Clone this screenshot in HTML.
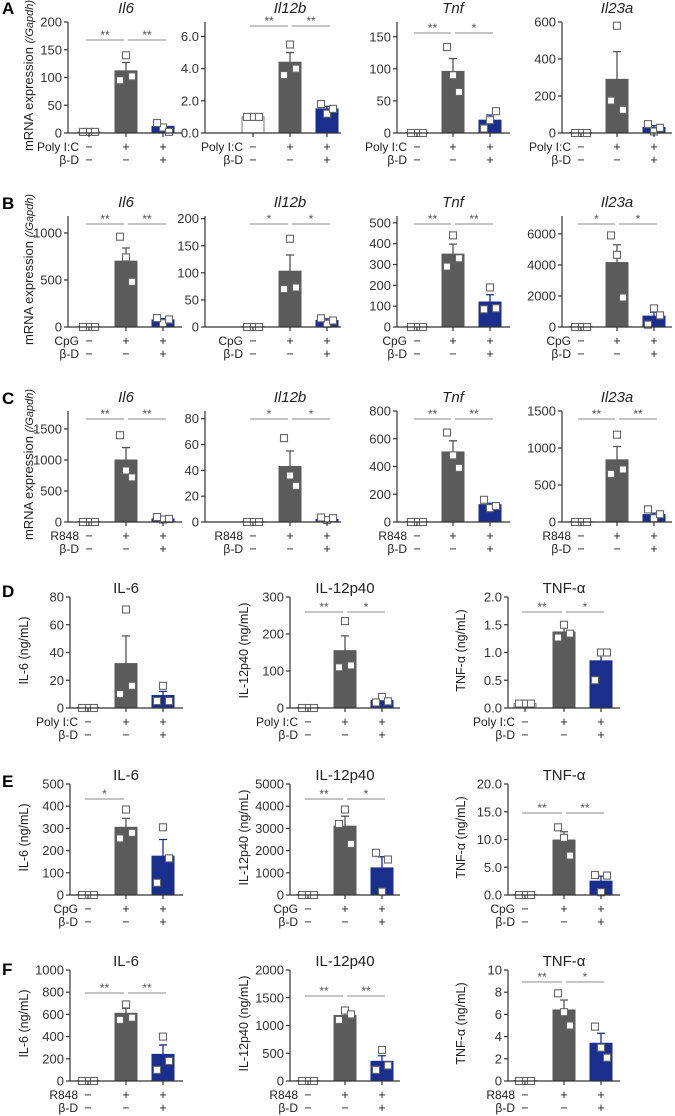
<!DOCTYPE html>
<html><head><meta charset="utf-8">
<style>
html,body{margin:0;padding:0;background:#fff;}
svg{display:block;font-family:"Liberation Sans",Arial,sans-serif;}
</style></head>
<body>
<svg id="fig" width="675" height="1116" viewBox="0 0 675 1116" xmlns="http://www.w3.org/2000/svg">
<text x="2" y="14" font-size="17" font-weight="bold">A</text>
<text x="2" y="209" font-size="17" font-weight="bold">B</text>
<text x="2" y="404" font-size="17" font-weight="bold">C</text>
<text x="2" y="597" font-size="17" font-weight="bold">D</text>
<text x="2" y="787" font-size="17" font-weight="bold">E</text>
<text x="2" y="975" font-size="17" font-weight="bold">F</text>
</svg>
<script>
// ---- data ----
const A1_means=[2,112,12], A1_errs=[0,15,4], A1_pts=[[2,2,2],[140,95,102],[10,18,2]], A1_ticks=[0,50,100,150,200], A1_tickLabels=["0","50","100","150","200"];
const A2_means=[1,4.4,1.5], A2_errs=[0,0.6,0.15], A2_pts=[[1,1,1],[5.5,3.6,4.0],[1.2,1.8,1.5]], A2_ticks=[0,2,4,6], A2_tickLabels=["0.0","2.0","4.0","6.0"];
const A3_means=[0,96,20], A3_errs=[0,20,8], A3_pts=[[0,0,0],[90,134,64],[20,7,34]], A3_ticks=[0,50,100,150], A3_tickLabels=["0","50","100","150"];
const A4_means=[0,290,30], A4_errs=[0,150,10], A4_pts=[[0,0,0],[580,175,125],[8,48,28]], A4_ticks=[0,200,400,600], A4_tickLabels=["0","200","400","600"];

const B1_means=[0,700,75], B1_errs=[0,140,15], B1_pts=[[0,0,0],[740,960,480],[40,95,80]], B1_ticks=[0,500,1000], B1_tickLabels=["0","500","1000"];
const B2_means=[0,103,12], B2_errs=[0,30,3], B2_pts=[[0,0,0],[163,70,73],[6,16,12]], B2_ticks=[0,50,100,150,200], B2_tickLabels=["0","50","100","150","200"];
const B3_means=[0,350,120], B3_errs=[0,48,35], B3_pts=[[0,0,0],[440,290,330],[190,85,90]], B3_ticks=[0,100,200,300,400,500], B3_tickLabels=["0","100","200","300","400","500"];
const B4_means=[0,4150,700], B4_errs=[0,1150,250], B4_pts=[[0,0,0],[4650,5900,1900],[1200,150,750]], B4_ticks=[0,2000,4000,6000], B4_tickLabels=["0","2000","4000","6000"];

const C1_means=[0,1000,50], C1_errs=[0,200,15], C1_pts=[[0,0,0],[830,1400,720],[40,80,50]], C1_ticks=[0,500,1000,1500], C1_tickLabels=["0","500","1000","1500"];
const C2_means=[0,43,2], C2_errs=[0,12,1], C2_pts=[[0,0,0],[36,65,28],[1.5,3.5,3]], C2_ticks=[0,20,40,60,80], C2_tickLabels=["0","20","40","60","80"];
const C3_means=[0,505,125], C3_errs=[0,80,10], C3_pts=[[0,0,0],[480,645,390],[100,160,115]], C3_ticks=[0,200,400,600,800], C3_tickLabels=["0","200","400","600","800"];
const C4_means=[0,840,100], C4_errs=[0,180,20], C4_pts=[[0,0,0],[1180,650,710],[50,170,105]], C4_ticks=[0,500,1000,1500], C4_tickLabels=["0","500","1000","1500"];

const D1_means=[0,32,9], D1_errs=[0,20,3], D1_pts=[[0,0,0],[71,10,16],[16,5,5]], D1_ticks=[0,20,40,60,80], D1_tickLabels=["0","20","40","60","80"];
const D2_means=[0,155,20], D2_errs=[0,40,5], D2_pts=[[0,0,0],[235,110,115],[30,15,18]], D2_ticks=[0,100,200,300], D2_tickLabels=["0","100","200","300"];
const D3_means=[0.08,1.37,0.85], D3_errs=[0,0.08,0.15], D3_pts=[[0.08,0.08,0.08],[1.5,1.27,1.34],[1.0,0.5,1.0]], D3_ticks=[0,0.5,1,1.5,2], D3_tickLabels=["0.0","0.5","1.0","1.5","2.0"];

const E1_means=[0,305,175], E1_errs=[0,40,75], E1_pts=[[0,0,0],[385,255,280],[305,55,165]], E1_ticks=[0,100,200,300,400,500], E1_tickLabels=["0","100","200","300","400","500"];
const E2_means=[0,3100,1220], E2_errs=[0,450,500], E2_pts=[[0,0,0],[3850,3200,2300],[150,1900,1600]], E2_ticks=[0,1000,2000,3000,4000,5000], E2_tickLabels=["0","1000","2000","3000","4000","5000"];
const E3_means=[0,9.9,2.5], E3_errs=[0,1.5,0.9], E3_pts=[[0,0,0],[10.3,12.2,7.1],[0.5,3.6,3.5]], E3_ticks=[0,5,10,15,20], E3_tickLabels=["0.0","5.0","10.0","15.0","20.0"];

const F1_means=[0,610,240], F1_errs=[0,45,85], F1_pts=[[0,0,0],[690,550,570],[400,100,180]], F1_ticks=[0,200,400,600,800,1000], F1_tickLabels=["0","200","400","600","800","1000"];
const F2_means=[0,1180,355], F2_errs=[0,50,100], F2_pts=[[0,0,0],[1270,1100,1200],[560,200,280]], F2_ticks=[0,500,1000,1500,2000], F2_tickLabels=["0","500","1000","1500","2000"];
const F3_means=[0,6.4,3.4], F3_errs=[0,0.9,0.9], F3_pts=[[0,0,0],[6.2,7.9,5.0],[3.0,4.9,2.1]], F3_ticks=[0,2,4,6,8,10], F3_tickLabels=["0","2","4","6","8","10"];

// ---- layout ----
const svg=document.getElementById('fig');
const NS='http://www.w3.org/2000/svg';
function mk(tag,attrs,parent){const e=document.createElementNS(NS,tag);for(const k in attrs)e.setAttribute(k,attrs[k]);(parent||svg).appendChild(e);return e;}
const FILLS=['#ffffff','#5b5b5b','#1a2e8c'];
const STROKES=['#777','#5b5b5b','#1a2e8c'];

function panel(p){
  const g=mk('g',{});
  
  
  const H=111, top=p.zero-H;
  const y=v=>p.zero-v/p.yMax*H;
  const t=mk('text',{x:p.bars[1],y:top-4-(p.titleUp||0),'font-size':15,'text-anchor':'middle','font-style':p.italic?'italic':'normal',fill:'#222'},g);
  t.textContent=p.title;
  
  
  const ya=mk('line',{x1:p.ax,y1:top,x2:p.ax,y2:p.zero,stroke:'#333','stroke-width':1.2},g);
  
  
  p.ticks.forEach((tv,i)=>{
    mk('line',{x1:p.ax-4,y1:y(tv),x2:p.ax,y2:y(tv),stroke:'#333','stroke-width':1.2},g);
    const tl=mk('text',{x:p.ax-6,y:y(tv)+4.5,'font-size':13,'text-anchor':'end',fill:'#333'},g);
    tl.textContent=p.tickLabels[i];
    
    
  });
  p.means.forEach((m,i)=>{
    const c=p.bars[i], bw=22;
    const yt=y(m);
    const b=mk('rect',{x:c-bw/2,y:Math.min(yt,p.zero-0.5),width:bw,height:Math.max(p.zero-yt,0.5),fill:FILLS[i],stroke:STROKES[i],'stroke-width':1},g);
    
    
    if(p.errs[i]>0){
      const ye=y(m+p.errs[i]);
      const e=mk('path',{d:`M${c},${yt} V${ye} M${c-4},${ye} H${c+4}`,stroke:i==1?'#555':(i==2?'#1a2e8c':'#777'),'stroke-width':1.3,fill:'none'},g);
      
      
    }
    const offs=[0,-6,6];
    p.pts[i].forEach((v,k)=>{
      const s=mk('rect',{x:c+offs[k]-3.5,y:y(v)-3.5,width:7,height:7,fill:'#fff',stroke:'#666','stroke-width':1.1},g);
      
      
    });
  });
  const xa=mk('line',{x1:p.ax,y1:p.zero,x2:p.xEnd,y2:p.zero,stroke:'#333','stroke-width':1.2},g);
  
  
  p.bars.forEach(c=>mk('line',{x1:c,y1:p.zero,x2:c,y2:p.zero+4,stroke:'#333','stroke-width':1.2},g));
  const rows=[[p.stim,['−','+','+']],['β-D',['−','−','+']]];
  rows.forEach((r,ri)=>{
    const yy=p.zero+18+ri*13;
    const lab=mk('text',{x:p.bars[0]-10,y:yy,'font-size':12,'text-anchor':'end',fill:'#222'},g);
    lab.textContent=r[0];
    
    
    r[1].forEach((s,i)=>{const st=mk('text',{x:p.bars[i],y:yy,'font-size':12.5,'text-anchor':'middle',fill:'#222'},g);st.textContent=s;});
  });
  (p.sig||[]).forEach(sg=>{
    const ys=top+p.sigY;
    const x1=sg[0]==0?p.bars[0]-3:p.bars[1]+2, x2=sg[0]==0?p.bars[1]-2:p.bars[2]+3;
    const l=mk('line',{x1:x1,y1:ys,x2:x2,y2:ys,stroke:'#888','stroke-width':1},g);
    
    
    const st=mk('text',{x:(x1+x2)/2,y:ys-1,'font-size':12,'text-anchor':'middle',fill:'#555'},g);
    st.textContent=sg[1];
    
    
  });
  if(p.ylabel){
    const cy=top+H/2-2;
    const yl=mk('text',{x:p.ylx,y:cy,'font-size':p.ylsize||12,'text-anchor':'middle',fill:'#222',transform:`rotate(-90 ${p.ylx} ${cy})`},g);
    yl.innerHTML=p.ylabel;
    
    
  }
}

const mrna='mRNA expression <tspan font-style="italic" font-size="11">(/Gapdh)</tspan>';
const topCols=[
  {ax:68,xEnd:182,bars:[89,126,163],title:'Il6'},
  {ax:205,xEnd:341,bars:[253,290,327],title:'Il12b'},
  {ax:397,xEnd:510,bars:[417,453,490],title:'Tnf'},
  {ax:562,xEnd:672,bars:[581,617,654],title:'Il23a'}
];
const topRows=[
  {r:'A',zero:133,stim:'Poly I:C',m:[A1_means,A2_means,A3_means,A4_means],e:[A1_errs,A2_errs,A3_errs,A4_errs],p:[A1_pts,A2_pts,A3_pts,A4_pts],t:[A1_ticks,A2_ticks,A3_ticks,A4_ticks],tl:[A1_tickLabels,A2_tickLabels,A3_tickLabels,A4_tickLabels],
   yMax:[200,6.9,173,600],sig:[[[0,'**'],[1,'**']],[[0,'**'],[1,'**']],[[0,'**'],[1,'*']],[]],sigY:[18,4,11,0]},
  {r:'B',zero:327,stim:'CpG',m:[B1_means,B2_means,B3_means,B4_means],e:[B1_errs,B2_errs,B3_errs,B4_errs],p:[B1_pts,B2_pts,B3_pts,B4_pts],t:[B1_ticks,B2_ticks,B3_ticks,B4_ticks],tl:[B1_tickLabels,B2_tickLabels,B3_tickLabels,B4_tickLabels],
   yMax:[1180,205,533,7150],sig:[[[0,'**'],[1,'**']],[[0,'*'],[1,'*']],[[0,'**'],[1,'**']],[[0,'*'],[1,'*']]],sigY:[8,8,8,8]},
  {r:'C',zero:522,stim:'R848',m:[C1_means,C2_means,C3_means,C4_means],e:[C1_errs,C2_errs,C3_errs,C4_errs],p:[C1_pts,C2_pts,C3_pts,C4_pts],t:[C1_ticks,C2_ticks,C3_ticks,C4_ticks],tl:[C1_tickLabels,C2_tickLabels,C3_tickLabels,C4_tickLabels],
   yMax:[1790,86,800,1500],sig:[[[0,'**'],[1,'**']],[[0,'*'],[1,'*']],[[0,'**'],[1,'**']],[[0,'**'],[1,'**']]],sigY:[8,8,8,8]}
];
topRows.forEach(R=>topCols.forEach((C,i)=>{
  panel({id:R.r.toLowerCase()+'-'+C.title.toLowerCase(),ax:C.ax,xEnd:C.xEnd,bars:C.bars,title:C.title,italic:true,zero:R.zero,stim:R.stim,
    means:R.m[i],errs:R.e[i],pts:R.p[i],ticks:R.t[i],tickLabels:R.tl[i],yMax:R.yMax[i],sig:R.sig[i],sigY:R.sigY[i],titleUp:5,
    ylabel:i==0?mrna:null,ylx:33,ylsize:13});
}));

const botCols=[
  {ax:70,xEnd:183,bars:[88,126,163],title:'IL-6',yl:'IL-6 (ng/mL)',ylx:28},
  {ax:290,xEnd:400,bars:[308,345,382],title:'IL-12p40',yl:'IL-12p40 (ng/mL)',ylx:248},
  {ax:508,xEnd:620,bars:[525,564,601],title:'TNF-α',yl:'TNF-α (ng/mL)',ylx:465}
];
const botRows=[
  {r:'D',zero:708,stim:'Poly I:C',m:[D1_means,D2_means,D3_means],e:[D1_errs,D2_errs,D3_errs],p:[D1_pts,D2_pts,D3_pts],t:[D1_ticks,D2_ticks,D3_ticks],tl:[D1_tickLabels,D2_tickLabels,D3_tickLabels],
   yMax:[80,300,2],sig:[[],[[0,'**'],[1,'*']],[[0,'**'],[1,'*']]],sigY:[15,15,15]},
  {r:'E',zero:895,stim:'CpG',m:[E1_means,E2_means,E3_means],e:[E1_errs,E2_errs,E3_errs],p:[E1_pts,E2_pts,E3_pts],t:[E1_ticks,E2_ticks,E3_ticks],tl:[E1_tickLabels,E2_tickLabels,E3_tickLabels],
   yMax:[500,5000,20],sig:[[[0,'*']],[[0,'**'],[1,'*']],[[0,'**'],[1,'**']]],sigY:[15,15,29]},
  {r:'F',zero:1081,stim:'R848',m:[F1_means,F2_means,F3_means],e:[F1_errs,F2_errs,F3_errs],p:[F1_pts,F2_pts,F3_pts],t:[F1_ticks,F2_ticks,F3_ticks],tl:[F1_tickLabels,F2_tickLabels,F3_tickLabels],
   yMax:[1000,2000,10],sig:[[[0,'**'],[1,'**']],[[0,'**'],[1,'**']],[[0,'**'],[1,'*']]],sigY:[23,26,12]}
];
botRows.forEach(R=>botCols.forEach((C,i)=>{
  panel({id:R.r.toLowerCase()+'-'+C.title.toLowerCase(),ax:C.ax,xEnd:C.xEnd,bars:C.bars,title:C.title,italic:false,zero:R.zero,stim:R.stim,
    means:R.m[i],errs:R.e[i],pts:R.p[i],ticks:R.t[i],tickLabels:R.tl[i],yMax:R.yMax[i],sig:R.sig[i],sigY:R.sigY[i],titleUp:0,
    ylabel:C.yl,ylx:C.ylx,ylsize:12.5});
}));
</script>
</body></html>
